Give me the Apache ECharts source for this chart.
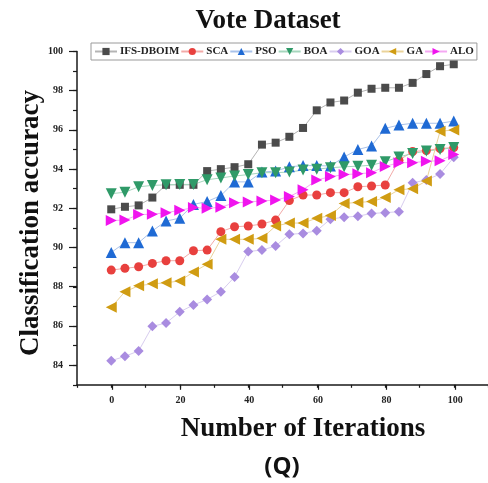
<!DOCTYPE html>
<html>
<head>
<meta charset="utf-8">
<script src="https://cdn.jsdelivr.net/npm/echarts@6/dist/echarts.min.js"></script>
<style>
  html, body { margin: 0; padding: 0; background: #fff; }
  #chart { width: 488px; height: 483px; }
</style>
</head>
<body>
<div id="chart"></div>
<script>
// Iteration checkpoints (every 4 iterations)
const iterations = [0, 4, 8, 12, 16, 20, 24, 28, 32, 36, 40, 44, 48, 52, 56, 60, 64, 68, 72, 76, 80, 84, 88, 92, 96, 100];

// Classification accuracy (%) per algorithm
const ifsDboim = [91.95, 92.08, 92.15, 92.55, 93.2, 93.2, 93.2, 93.9, 94.0, 94.1, 94.25, 95.25, 95.35, 95.65, 96.1, 97.0, 97.4, 97.5, 97.9, 98.1, 98.15, 98.15, 98.4, 98.85, 99.25, 99.35];
const sca = [88.85, 88.94, 89.02, 89.19, 89.33, 89.33, 89.84, 89.87, 90.81, 91.06, 91.1, 91.2, 91.4, 92.4, 92.68, 92.68, 92.8, 92.8, 93.1, 93.14, 93.19, 94.45, 94.9, 94.95, 95.05, 95.1];
const pso = [89.75, 90.25, 90.25, 90.85, 91.35, 91.5, 92.2, 92.35, 92.65, 93.35, 93.35, 93.85, 93.9, 94.12, 94.18, 94.18, 94.16, 94.62, 95.0, 95.18, 96.08, 96.25, 96.34, 96.34, 96.34, 96.45];
const boa = [92.75, 92.82, 93.1, 93.17, 93.2, 93.22, 93.22, 93.46, 93.55, 93.65, 93.72, 93.82, 93.82, 93.85, 93.95, 94.0, 94.07, 94.12, 94.15, 94.2, 94.38, 94.62, 94.8, 94.92, 95.0, 95.1];
const goa = [84.23, 84.45, 84.73, 85.98, 86.15, 86.72, 87.07, 87.35, 87.75, 88.5, 89.8, 89.87, 90.08, 90.68, 90.72, 90.86, 91.45, 91.55, 91.6, 91.74, 91.78, 91.83, 93.3, 93.45, 93.75, 94.6];
const ga = [86.95, 87.75, 88.05, 88.15, 88.2, 88.3, 88.75, 89.15, 90.42, 90.42, 90.42, 90.47, 91.1, 91.25, 91.25, 91.5, 91.63, 92.25, 92.3, 92.35, 92.55, 92.95, 93.0, 93.4, 95.93, 96.0];
const alo = [91.38, 91.4, 91.68, 91.7, 91.78, 91.9, 92.04, 92.0, 92.06, 92.28, 92.32, 92.38, 92.42, 92.6, 92.95, 93.44, 93.62, 93.72, 93.76, 93.82, 94.14, 94.33, 94.33, 94.4, 94.43, 94.75];

const seriesNames = ['IFS-DBOIM', 'SCA', 'PSO', 'BOA', 'GOA', 'GA', 'ALO'];
const seriesValues = [ifsDboim, sca, pso, boa, goa, ga, alo];

// Marker shape, rotation, size, fill colour and connecting-line colour per series
const styles = [
  { symbol: 'rect',     rotate: 0,   size: 8,  color: '#4b4b4b', line: '#b4b4b4' },
  { symbol: 'circle',   rotate: 0,   size: 9,  color: '#e8403e', line: '#f2aaa8' },
  { symbol: 'triangle', rotate: 0,   size: 11, color: '#1f6ad4', line: '#a9c2ea' },
  { symbol: 'triangle', rotate: 180, size: 11, color: '#2f9a68', line: '#a6d6bd' },
  { symbol: 'diamond',  rotate: 0,   size: 10, color: '#a98ce0', line: '#d8cdef' },
  { symbol: 'triangle', rotate: 90,  size: 11, color: '#d09c12', line: '#ead39a' },
  { symbol: 'triangle', rotate: -90, size: 11, color: '#f014ee', line: '#f4a8f2' }
];

const serif = '"Liberation Serif", "Times New Roman", serif';
const axisColor = '#1a1a1a';

const chart = echarts.init(document.getElementById('chart'), null, { renderer: 'canvas' });

const series = seriesNames.map((name, k) => ({
  name: name,
  type: 'line',
  xAxisIndex: 0,
  yAxisIndex: 0,
  data: iterations.map((it, i) => [it, seriesValues[k][i]]),
  symbol: styles[k].symbol,
  symbolRotate: styles[k].rotate,
  symbolSize: styles[k].size,
  showAllSymbol: true,
  lineStyle: { color: styles[k].line, width: 1 },
  itemStyle: { color: styles[k].color, opacity: 1 },
  emphasis: { disabled: true },
  animation: false
}));

chart.setOption({
  animation: false,
  backgroundColor: '#ffffff',
  title: {
    text: 'Vote Dataset',
    left: 268,
    top: 8,
    padding: 0,
    textAlign: 'center',
    textStyle: { fontFamily: serif, fontWeight: 'bold', fontSize: 27, color: '#111' }
  },
  legend: {
    data: seriesNames,
    left: 91,
    top: 43,
    width: 420,
    padding: [3, 3, 3, 3],
    itemGap: 1,
    itemWidth: 22,
    itemHeight: 9,
    borderColor: '#9a9a9a',
    borderWidth: 1,
    textStyle: { fontFamily: serif, fontWeight: 'bold', fontSize: 11, color: '#222', padding: [0, 0, 0, -2] }
  },
  grid: [
    // plotting area (minor ticks, axis lines)
    { left: 77, top: 51.5, width: 412, height: 333.3 },
    // major y ticks and labels (84 .. 100)
    { left: 77, top: 51.5, width: 412, height: 313.6 },
    // major x ticks and labels (0 .. 100)
    { left: 111.8, top: 51.5, width: 343.5, height: 333.3 }
  ],
  xAxis: [
    {
      gridIndex: 0, type: 'value', min: -10, max: 110, interval: 10,
      axisLine: { show: true, onZero: false, lineStyle: { color: axisColor, width: 1.5 } },
      axisTick: { show: true, length: 3, lineStyle: { color: axisColor, width: 1.2 } },
      axisLabel: { show: false },
      splitLine: { show: false }
    },
    { gridIndex: 1, type: 'value', min: 0, max: 100, show: false },
    {
      gridIndex: 2, type: 'value', min: 0, max: 100, interval: 20,
      axisLine: { show: false, onZero: false },
      axisTick: { show: true, length: 5, lineStyle: { color: axisColor, width: 1.2 } },
      axisLabel: { show: true, margin: 11, fontFamily: serif, fontWeight: 'bold', fontSize: 10, color: '#222' },
      splitLine: { show: false }
    }
  ],
  yAxis: [
    {
      gridIndex: 0, type: 'value', min: 83, max: 100, interval: 1,
      axisLine: { show: true, onZero: false, lineStyle: { color: axisColor, width: 1.5 } },
      axisTick: { show: true, length: 4, lineStyle: { color: axisColor, width: 1.2 } },
      axisLabel: { show: false },
      splitLine: { show: false }
    },
    {
      gridIndex: 1, type: 'value', min: 84, max: 100, interval: 2,
      axisLine: { show: false, onZero: false },
      axisTick: { show: true, length: 8, lineStyle: { color: axisColor, width: 1.2 } },
      axisLabel: { show: true, margin: 14, fontFamily: serif, fontWeight: 'bold', fontSize: 10, color: '#222' },
      splitLine: { show: false }
    },
    { gridIndex: 2, type: 'value', min: 83, max: 100, show: false }
  ],
  graphic: [
    {
      type: 'text',
      x: 31,
      y: 223,
      rotation: Math.PI / 2,
      style: {
        text: 'Classification accuracy', font: 'bold 27px ' + serif, fill: '#111',
        textAlign: 'center', textVerticalAlign: 'middle'
      }
    },
    {
      type: 'text',
      x: 303,
      y: 416,
      style: { text: 'Number of Iterations', font: 'bold 27px ' + serif, fill: '#111', textAlign: 'center' }
    },
    {
      type: 'text',
      x: 282,
      y: 455,
      style: { text: '(Q)', font: 'bold 24px "Open Sans", "Liberation Sans", sans-serif', fill: '#111', textAlign: 'center' }
    }
  ],
  series: series
});
</script>
</body>
</html>
